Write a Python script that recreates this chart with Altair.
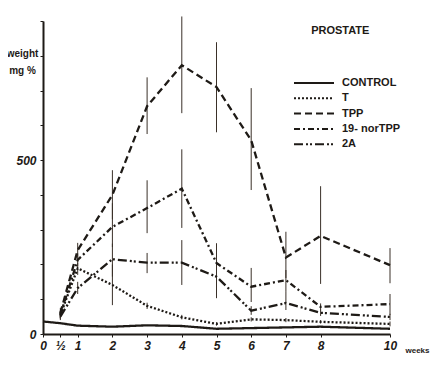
import altair as alt
import pandas as pd

weeks = [0, 0.5, 1, 2, 3, 4, 5, 6, 7, 8, 10]
series_names = ["CONTROL", "T", "TPP", "19- norTPP", "2A"]

control = [36, 31, 24, 21, 25, 23, 15, 17, 19, 21, 15]
t_vals = [None, 55, 189, 141, 81, 48, 29, 42, 40, 35, 29]
tpp = [None, 60, 241, 400, 655, 773, 710, 557, 220, 282, 198]
nor_tpp = [None, 55, 213, 308, 362, 418, 204, 136, 155, 78, 86]
a2 = [None, 50, 132, 215, 205, 205, 165, 67, 89, 61, 49]

# error bar extents (low, high)
tpp_lo = [None, 45, 220, 330, 575, 635, 580, 414, 161, 144, 146]
tpp_hi = [None, 75, 262, 471, 738, 913, 839, 707, 294, 425, 247]
nor_lo = [None, 45, 195, 250, 290, 305, 180, 92, 121, 68, 55]
nor_hi = [None, 65, 232, 376, 442, 531, 230, 190, 184, 88, 115]
a2_lo = [None, 40, 115, 165, 175, 141, 103, 55, 69, 52, 40]
a2_hi = [None, 60, 150, 260, 233, 270, 261, 80, 121, 70, 58]
t_lo = [None, 45, 170, 83, 72, 42, 24, 36, 34, 30, 22]
t_hi = [None, 65, 205, 200, 90, 55, 34, 48, 46, 40, 36]

x_ticks = [0, 0.5, 1, 2, 3, 4, 5, 6, 7, 8, 10]
y_ticks = [0, 100, 200, 300, 400, 500, 600, 700, 800, 900]

values = [control, t_vals, tpp, nor_tpp, a2]
los = [None, t_lo, tpp_lo, nor_lo, a2_lo]
his = [None, t_hi, tpp_hi, nor_hi, a2_hi]

rows = []
err = []
for name, vals, lo, hi in zip(series_names, values, los, his):
    for i, w in enumerate(weeks):
        if vals[i] is None:
            continue
        rows.append({"week": w, "series": name, "value": vals[i]})
        if lo is not None and lo[i] is not None:
            err.append({"week": w, "series": name, "lo": lo[i], "hi": hi[i]})
df = pd.DataFrame(rows)
edf = pd.DataFrame(err)

ink = "#1e1a16"

xscale = alt.Scale(domain=[0, 10], nice=False, zero=False)
yscale = alt.Scale(domain=[0, 900], nice=False)

dash_scale = alt.Scale(
    domain=series_names,
    range=[[1, 0], [2, 2], [7, 4], [6, 3, 2, 3], [9, 3, 2, 2, 2, 3]],
)

xaxis = alt.Axis(
    values=x_ticks,
    labelExpr="datum.value == 0.5 ? '½' : datum.label",
    labelOverlap=False,
    labelFlush=False,
    grid=False,
    tickSize=3,
    labelFontStyle="italic",
    labelFontWeight="bold",
    labelFontSize=12,
    labelPadding=3,
    title="weeks",
    titleAngle=0,
    titleX=374,
    titleY=16,
    titleAlign="center",
    titleBaseline="middle",
    titleFontSize=8,
    titleFontWeight="bold",
)
yaxis = alt.Axis(
    values=y_ticks,
    labelExpr="(datum.value == 0 || datum.value == 500) ? datum.label : ''",
    labelOverlap=False,
    labelFlush=False,
    grid=False,
    tickSize=3,
    labelFontStyle="italic",
    labelFontWeight="bold",
    labelFontSize=12,
    labelPadding=4,
    title=["weight", "mg %"],
    titleAngle=0,
    titleX=-21,
    titleY=27,
    titleAlign="center",
    titleBaseline="top",
    titleFontSize=10,
    titleFontWeight="bold",
    titleLineHeight=17,
)

bars = alt.Chart(edf).mark_rule(color="#3a3028", strokeWidth=1).encode(
    x=alt.X("week:Q", scale=xscale, axis=xaxis),
    y=alt.Y("lo:Q", scale=yscale, axis=yaxis),
    y2="hi:Q",
)

lines = alt.Chart(df).mark_line(color=ink, strokeWidth=2.3).encode(
    x=alt.X("week:Q", scale=xscale, axis=xaxis),
    y=alt.Y("value:Q", scale=yscale, axis=yaxis),
    strokeDash=alt.StrokeDash(
        "series:N",
        scale=dash_scale,
        sort=series_names,
        legend=alt.Legend(
            title=None,
            orient="none",
            legendX=265,
            legendY=56,
            symbolType="M-4,0H4",
            symbolSize=100,
            symbolStrokeWidth=2,
            symbolStrokeColor=ink,
            symbolFillColor="transparent",
            labelFontSize=11,
            labelFontWeight="bold",
            labelOffset=22,
            rowPadding=4.3,
        ),
    ),
    detail="series:N",
)

chart = (
    alt.layer(bars, lines)
    .properties(
        width=347,
        height=313,
        autosize=alt.AutoSizeParams(type="none"),
        padding={"left": 35, "top": 13, "right": 40, "bottom": 22},
        background="white",
        title=alt.TitleParams(
            "PROSTATE",
            anchor="start",
            dx=305,
            dy=25,
            fontSize=11,
            fontWeight="bold",
            color=ink,
            font="Liberation Sans",
        ),
    )
    .configure_view(stroke=None)
    .configure_axis(domainColor=ink, tickColor=ink, labelColor=ink, titleColor=ink, domainWidth=2,
                    labelFont="Liberation Sans", titleFont="Liberation Sans", labelOverlap=False)
    .configure_legend(labelColor=ink, titleColor=ink, labelFont="Liberation Sans", titleFont="Liberation Sans")
)

chart.save("out.html", embed_options={"renderer": "svg", "actions": False})
